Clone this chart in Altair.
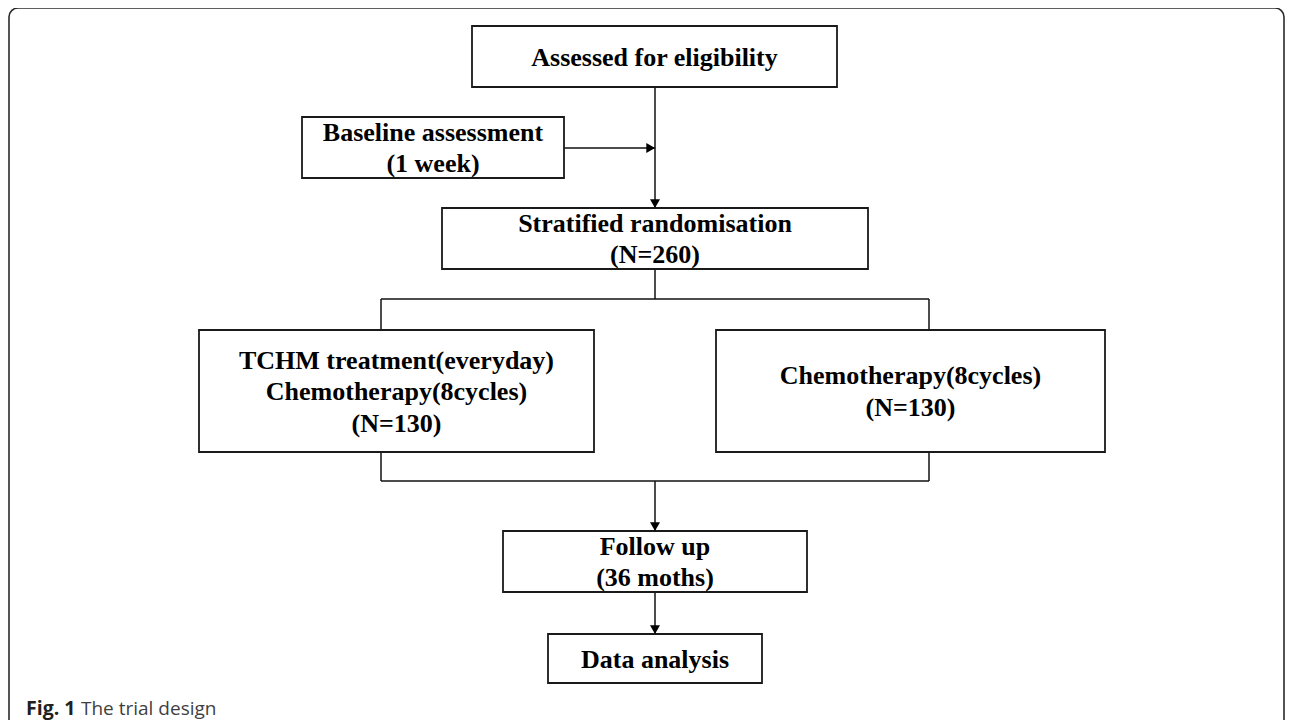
import altair as alt
import pandas as pd

# ---- flowchart content ----
box_labels = [
    ["Assessed for eligibility"],
    ["Baseline assessment", "(1 week)"],
    ["Stratified randomisation", "(N=260)"],
    ["TCHM treatment(everyday)", "Chemotherapy(8cycles)", "(N=130)"],
    ["Chemotherapy(8cycles)", "(N=130)"],
    ["Follow up", "(36 moths)"],
    ["Data analysis"],
]
box_left = [472, 302, 442, 199, 716, 503, 548]
box_right = [837, 564, 868, 594, 1105, 807, 762]
box_top = [26, 117, 208, 330, 330, 531, 634]
box_bottom = [87, 178, 269, 452, 452, 592, 683]

# plain connector segments
seg_x1 = [655, 381, 381, 929, 381, 929, 381]
seg_y1 = [269, 299, 299, 299, 452, 452, 481]
seg_x2 = [655, 929, 381, 929, 381, 929, 929]
seg_y2 = [299, 299, 330, 330, 481, 481, 481]

# arrows (from -> to), direction of the head
arr_x1 = [655, 564, 655, 655]
arr_y1 = [87, 148, 481, 592]
arr_x2 = [655, 655, 655, 655]
arr_y2 = [208, 148, 531, 634]
arr_dir = ["down", "right", "down", "down"]

caption_bold = "Fig. 1"
caption_rest = "The trial design"

# ---- build tables ----
W, H = 1277, 712
xs = alt.Scale(domain=[8, 8 + W], nice=False, zero=False)
ys = alt.Scale(domain=[8, 8 + H], nice=False, zero=False, reverse=True)

LH = 31.5
boxes = pd.DataFrame({
    "label": box_labels,
    "x1": box_left, "x2": box_right, "y1": box_top, "y2": box_bottom,
})
boxes["cx"] = (boxes.x1 + boxes.x2) / 2
boxes["n"] = [len(l) for l in box_labels]
boxes["cy"] = (boxes.y1 + boxes.y2) / 2 - (boxes.n - 1) * LH / 2 + 1

segs = pd.DataFrame({"x1": seg_x1 + arr_x1, "y1": seg_y1 + arr_y1,
                     "x2": seg_x2 + arr_x2, "y2": seg_y2 + arr_y2})

HEAD_SIZE = 100
h = (HEAD_SIZE ** 0.5) * 0.433
heads = pd.DataFrame({
    "x": [x - (h if d == "right" else 0) for x, d in zip(arr_x2, arr_dir)],
    "y": [y - (h if d == "down" else 0) for y, d in zip(arr_y2, arr_dir)],
    "shape": ["triangle-down" if d == "down" else "triangle-right" for d in arr_dir],
})

frame = pd.DataFrame({"x1": [9], "x2": [1284], "y1": [8], "y2": [745]})

cap = pd.DataFrame({"t": [caption_bold], "x": [26], "y": [715]})
cap2 = pd.DataFrame({"t": [caption_rest], "x": [81], "y": [715]})

X = lambda f: alt.X(f, type="quantitative", scale=xs, axis=None)
Y = lambda f: alt.Y(f, type="quantitative", scale=ys, axis=None)

frame_l = alt.Chart(frame).mark_rect(
    fill="white", stroke="#2b2b2b", strokeWidth=1.6, cornerRadius=9
).encode(x=X("x1"), x2="x2", y=Y("y1"), y2="y2")

seg_l = alt.Chart(segs).mark_rule(color="#111111", strokeWidth=1.5).encode(
    x=X("x1"), y=Y("y1"), x2="x2", y2="y2")

box_l = alt.Chart(boxes).mark_rect(
    fill="white", stroke="#1a1a1a", strokeWidth=1.8
).encode(x=X("x1"), x2="x2", y=Y("y1"), y2="y2")

text_l = alt.Chart(boxes).mark_text(
    font="Liberation Serif", fontWeight="bold", fontSize=26,
    lineHeight=LH, align="center", baseline="middle", color="#000000"
).encode(x=X("cx"), y=Y("cy"), text="label")

head_l = alt.Chart(heads).mark_point(
    filled=True, size=HEAD_SIZE, opacity=1, color="#000000", strokeWidth=0
).encode(x=X("x"), y=Y("y"), shape=alt.Shape("shape:N", scale=None, legend=None))

cap_l = alt.Chart(cap).mark_text(
    font="Open Sans", fontWeight="bold", fontSize=19.5, align="left",
    baseline="alphabetic", color="#231f20"
).encode(x=X("x"), y=Y("y"), text="t")

cap2_l = alt.Chart(cap2).mark_text(
    font="Open Sans", fontSize=19, align="left",
    baseline="alphabetic", color="#3f3f3f"
).encode(x=X("x"), y=Y("y"), text="t")

chart = alt.layer(frame_l, seg_l, box_l, text_l, head_l, cap_l, cap2_l).properties(
    width=W, height=H, padding=0, background="white",
    autosize=alt.AutoSizeParams(type="none"),
).configure_view(stroke=None)

chart.save("out.html", embed_options={"renderer": "svg", "actions": False})
